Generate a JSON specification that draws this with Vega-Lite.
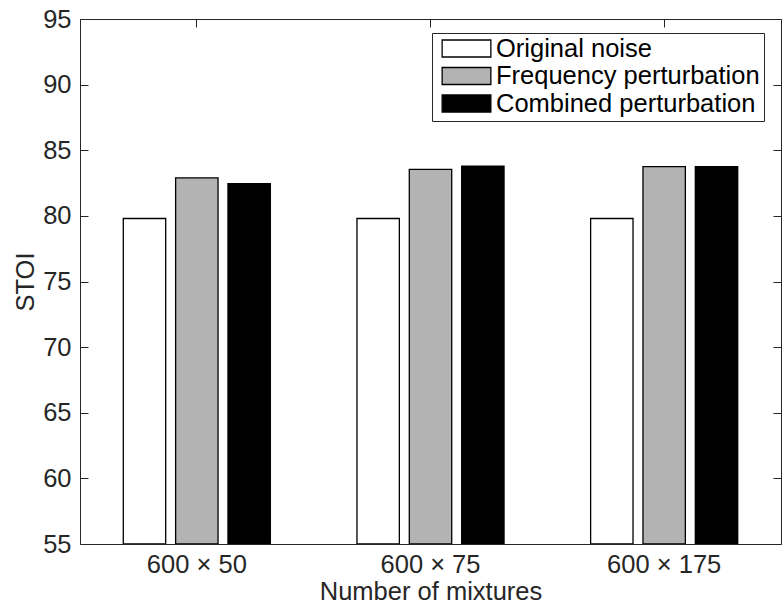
{
  "$schema": "https://vega.github.io/schema/vega-lite/v6.json",
  "autosize": "none",
  "padding": {"left": 80, "top": 19, "right": 2, "bottom": 66},
  "width": 701,
  "height": 525,
  "background": "white",
  "config": {
    "font": "Liberation Sans",
    "view": {"stroke": null},
    "axis": {
      "domainColor": "#262626",
      "domainWidth": 1,
      "tickColor": "#262626",
      "tickWidth": 1,
      "labelColor": "#262626",
      "titleColor": "#262626",
      "labelFont": "Liberation Sans",
      "titleFont": "Liberation Sans",
      "labelFontSize": 25.5,
      "titleFontSize": 25.5,
      "titleFontWeight": "normal",
      "grid": false
    }
  },
  "data": {
    "values": [
      {"group": "600 × 50", "method": "Original noise", "stoi": 79.8},
      {"group": "600 × 50", "method": "Frequency perturbation", "stoi": 82.9},
      {"group": "600 × 50", "method": "Combined perturbation", "stoi": 82.45},
      {"group": "600 × 75", "method": "Original noise", "stoi": 79.8},
      {"group": "600 × 75", "method": "Frequency perturbation", "stoi": 83.55},
      {"group": "600 × 75", "method": "Combined perturbation", "stoi": 83.78},
      {"group": "600 × 175", "method": "Original noise", "stoi": 79.8},
      {"group": "600 × 175", "method": "Frequency perturbation", "stoi": 83.75},
      {"group": "600 × 175", "method": "Combined perturbation", "stoi": 83.75}
    ]
  },
  "layer": [
    {
      "mark": {"type": "bar", "stroke": "black", "strokeWidth": 1.3, "clip": true},
      "encoding": {
        "x": {
          "field": "group",
          "type": "nominal",
          "sort": null,
          "scale": {"paddingInner": 0.328, "paddingOuter": 0.164},
          "axis": {
            "orient": "bottom",
            "title": "Number of mixtures",
            "labelAngle": 0,
            "tickSize": -8,
            "labelPadding": 16,
            "titleX": 350.5,
            "titleY": 55,
            "titleBaseline": "alphabetic"
          }
        },
        "xOffset": {
          "field": "method",
          "type": "nominal",
          "sort": ["Original noise", "Frequency perturbation", "Combined perturbation"],
          "scale": {"paddingInner": 0.19, "paddingOuter": 0.095}
        },
        "y": {
          "field": "stoi",
          "type": "quantitative",
          "scale": {"domain": [55, 95], "zero": false, "nice": false},
          "axis": {
            "orient": "left",
            "title": "STOI",
            "values": [55, 60, 65, 70, 75, 80, 85, 90, 95],
            "tickSize": -8,
            "labelPadding": 17,
            "titleX": -47,
            "titleY": 262.5,
            "titleBaseline": "alphabetic"
          }
        },
        "y2": {"datum": 55},
        "color": {
          "field": "method",
          "type": "nominal",
          "sort": ["Original noise", "Frequency perturbation", "Combined perturbation"],
          "scale": {
            "domain": ["Original noise", "Frequency perturbation", "Combined perturbation"],
            "range": ["#ffffff", "#b3b3b3", "#000000"]
          },
          "legend": {
            "title": null,
            "orient": "none",
            "legendX": 352,
            "legendY": 14,
            "strokeColor": "#262626",
            "fillColor": "white",
            "padding": 4,
            "symbolOffset": 5,
            "symbolType": "M-1,-0.35H1V0.35H-1Z",
            "symbolSize": 2372,
            "symbolStrokeColor": "#000000",
            "symbolStrokeWidth": 1.3,
            "symbolOpacity": 1,
            "clipHeight": 23,
            "rowPadding": 1.5,
            "labelOffset": 4,
            "labelFont": "Liberation Sans",
            "labelFontSize": 25.5,
            "labelColor": "#000000",
            "labelLimit": 400
          }
        }
      }
    },
    {
      "mark": {"type": "bar", "opacity": 0},
      "encoding": {
        "x": {
          "field": "group",
          "type": "nominal",
          "sort": null,
          "axis": {"orient": "top", "title": null, "labels": false, "tickSize": -8}
        },
        "y": {
          "field": "stoi",
          "type": "quantitative",
          "axis": {
            "orient": "right",
            "title": null,
            "labels": false,
            "values": [55, 60, 65, 70, 75, 80, 85, 90, 95],
            "tickSize": -8
          }
        }
      }
    }
  ],
  "resolve": {"axis": {"x": "independent", "y": "independent"}}
}
